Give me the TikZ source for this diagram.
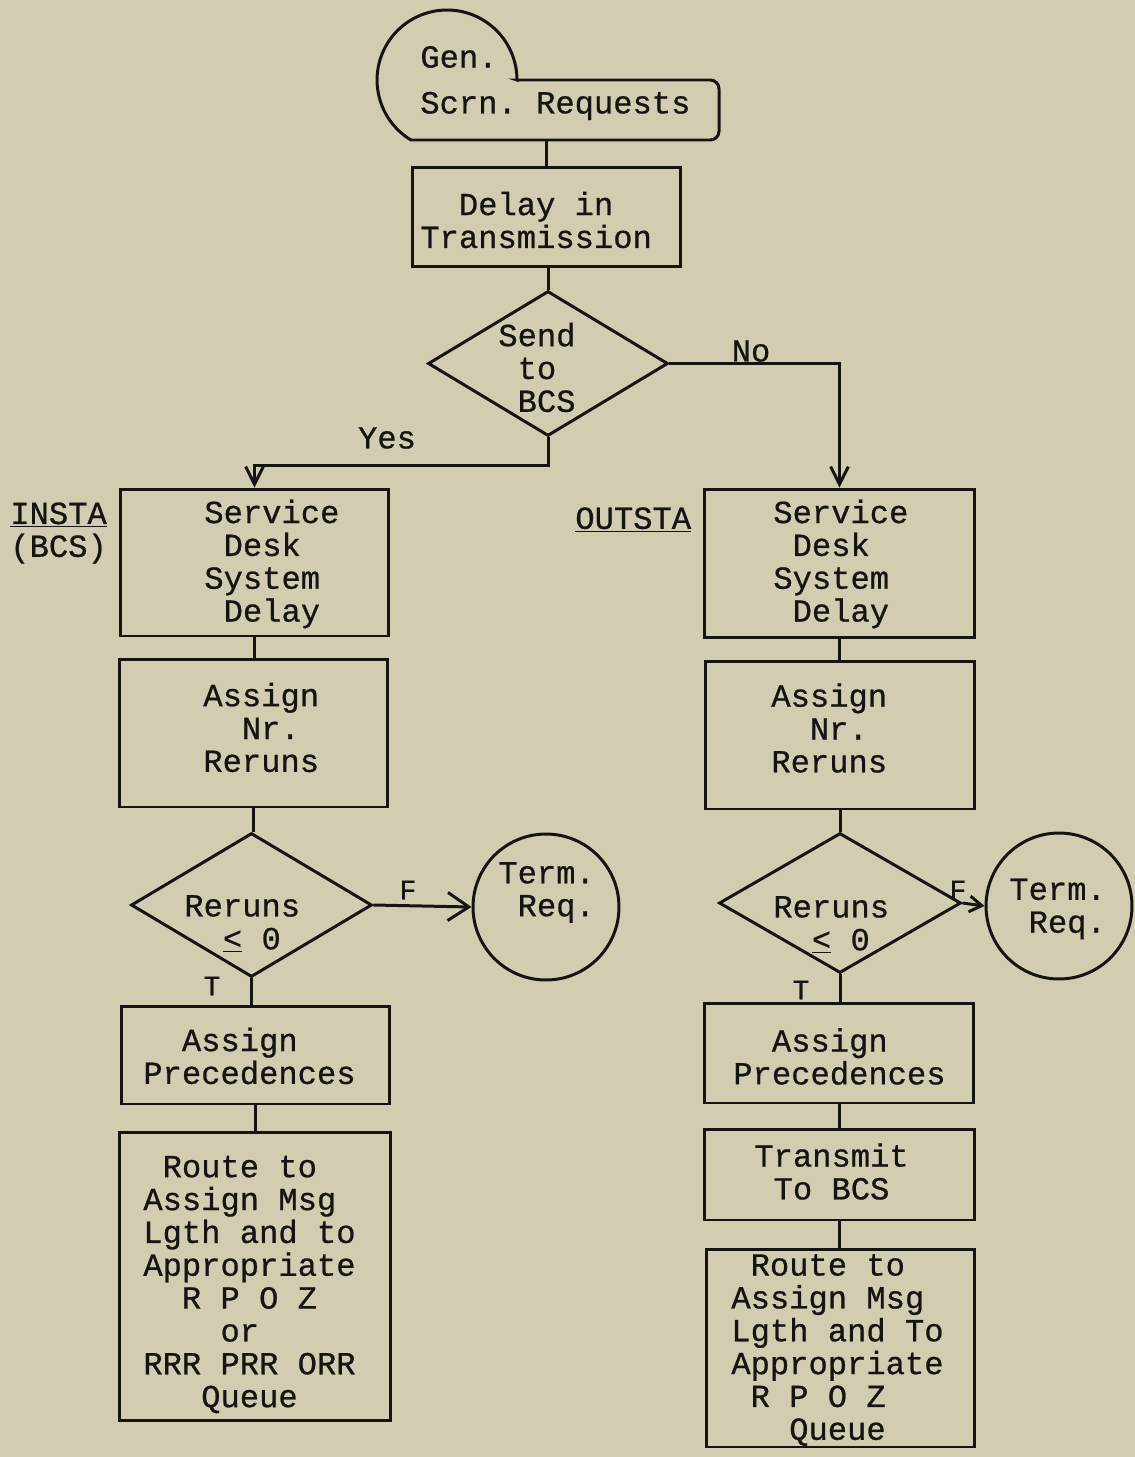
\documentclass[tikz,border=0pt]{standalone}
\usepackage{fontspec}
\setmainfont{Liberation Mono}[FakeBold=0.7]
\usetikzlibrary{shapes.geometric,arrows.meta}
\definecolor{paper}{RGB}{210,204,176}
\definecolor{ink}{RGB}{22,20,18}
\begin{document}
\begin{tikzpicture}[x=0.02cm,y=0.02cm,
  every node/.style={font=\fontsize{18.3}{18.7}\selectfont, text=ink},
  box/.style={draw=ink, line width=1.7pt, rectangle, inner sep=0pt},
  dia/.style={draw=ink, line width=1.7pt, diamond, inner sep=0pt},
  circ/.style={draw=ink, line width=1.7pt, circle, inner sep=0pt, minimum size=2.92cm},
  txt/.style={anchor=west, align=left, inner sep=0pt},
  lbl/.style={inner sep=0pt, font=\fontsize{16}{17}\selectfont},
  con/.style={draw=ink, line width=1.7pt},
  arr/.style={con, -{Straight Barb[length=10pt,width=10pt,line width=1.7pt]}},
  arrbig/.style={con, -{Straight Barb[length=12pt,width=16pt,line width=1.7pt]}},
  arrsmall/.style={con, -{Straight Barb[length=7pt,width=9pt,line width=1.7pt]}}
]
\fill[paper] (0,0) rectangle (1135,-1457);
\useasboundingbox (0,0) rectangle (1135,-1457);

% start terminal
\node[inner sep=0pt, minimum width=6.16cm, minimum height=1.2cm] (start) at (565,-110) {};
\draw[con] (517,-80) [rounded corners=5pt] -- (719,-80) -- (719,-140) [sharp corners] -- (411,-140)
  arc[start angle=239,end angle=0,radius=1.4cm] -- cycle;
\node[txt] (genT) at (420,-57) {Gen.};
\node[txt] (scrnT) at (420,-106) {Scrn.\hspace{0.6em}Requests};

% delay
\node[box, minimum width=5.38cm, minimum height=2cm] (delay) at (546.5,-217) {};
\node[txt] (delayT) at (420,-220) {\hspace*{1.2em}Delay in\\Transmission};

% decision
\node[dia, minimum width=4.8cm, minimum height=2.9cm] (send) at (548,-363.5) {};
\node[txt] (sendT) at (498,-367.5) {Send\\\hspace*{0.6em}to\\\hspace*{0.6em}BCS};

% left column
\node[txt] (insta) at (10,-533) {\underline{INSTA}\\(BCS)};
\node[box, minimum width=5.38cm, minimum height=2.94cm] (sdsL) at (254.5,-562.5) {};
\node[txt] (sdsLT) at (204,-564) {Service\\\hspace*{0.6em}Desk\\System\\\hspace*{0.6em}Delay};
\node[box, minimum width=5.38cm, minimum height=2.96cm] (nrL) at (253.5,-733) {};
\node[txt] (nrLT) at (203,-727.5) {Assign\\\hspace*{1.2em}Nr.\\Reruns};
\node[dia, minimum width=4.82cm, minimum height=2.88cm] (rerL) at (251.5,-905) {};
\node[txt] (rerLT) at (184,-924) {Reruns\\\hspace*{1.2em}\underline{<} 0};
\node[circ] (termL) at (546,-907) {};
\node[txt] (termLT) at (498,-892.5) {Term.\\\hspace*{0.6em}Req.};
\node[box, minimum width=5.38cm, minimum height=1.96cm] (precL) at (255.5,-1055) {};
\node[txt] (precLT) at (143,-1056) {\hspace*{1.2em}Assign\\Precedences};
\node[box, minimum width=5.44cm, minimum height=5.78cm] (routeL) at (255,-1276.5) {};
\node[txt] (routeLT) at (143,-1284.5) {\hspace*{0.6em}Route to\\Assign Msg\\Lgth and to\\Appropriate\\\hspace*{1.2em}R P O Z\\\hspace*{2.4em}or\\RRR PRR ORR\\\hspace*{1.8em}Queue};

% right column
\node[txt] (outsta) at (575,-520) {\underline{OUTSTA}};
\node[box, minimum width=5.42cm, minimum height=2.98cm] (sdsR) at (839.5,-563.5) {};
\node[txt] (sdsRT) at (773,-564) {Service\\\hspace*{0.6em}Desk\\System\\\hspace*{0.6em}Delay};
\node[box, minimum width=5.4cm, minimum height=2.96cm] (nrR) at (840,-735) {};
\node[txt] (nrRT) at (771,-728) {Assign\\\hspace*{1.2em}Nr.\\Reruns};
\node[dia, minimum width=4.84cm, minimum height=2.8cm] (rerR) at (840,-903) {};
\node[txt] (rerRT) at (773,-925) {Reruns\\\hspace*{1.2em}\underline{<} 0};
\node[circ] (termR) at (1059,-906) {};
\node[txt] (termRT) at (1009,-909) {Term.\\\hspace*{0.6em}Req.};
\node[box, minimum width=5.4cm, minimum height=2cm] (precR) at (839,-1053) {};
\node[txt] (precRT) at (733,-1056.5) {\hspace*{1.2em}Assign\\Precedences};
\node[box, minimum width=5.42cm, minimum height=1.82cm] (trans) at (839.5,-1174.5) {};
\node[txt] (transT) at (754,-1171.5) {Transmit\\\hspace*{0.6em}To BCS};
\node[box, minimum width=5.38cm, minimum height=3.96cm] (routeR) at (840.5,-1348) {};
\node[txt] (routeRT) at (731,-1350) {\hspace*{0.6em}Route to\\Assign Msg\\Lgth and To\\Appropriate\\\hspace*{0.6em}R P O Z\\\hspace*{1.8em}Queue};

% connectors
\draw[con] (start.south -| delay.north) -- (delay.north);
\draw[con] (delay.south -| send.north) -- (send.north);
\draw[arr] (send.south) -- ++(0,-28) -| (sdsL.north);
\draw[arr] (send.east) -| (sdsR.north);
\draw[con] (sdsL.south) -- (sdsL.south |- nrL.north);
\draw[con] (nrL.south) -- (nrL.south |- rerL.north);
\draw[arrbig] (rerL.east) -- (termL.west);
\draw[con] (rerL.south) -- (rerL.south |- precL.north);
\draw[con] (precL.south) -- (precL.south |- routeL.north);
\draw[con] (sdsR.south) -- (sdsR.south |- nrR.north);
\draw[con] (nrR.south) -- (nrR.south |- rerR.north);
\draw[arrsmall] (rerR.east) -- (termR.west);
\draw[con] (rerR.south) -- (rerR.south |- precR.north);
\draw[con] (precR.south) -- (precR.south |- trans.north);
\draw[con] (trans.south) -- (trans.south |- routeR.north);

% labels
\node[lbl, font=\fontsize{18.3}{18.7}\selectfont] (yes) at (387,-438) {Yes};
\node[lbl, font=\fontsize{18.3}{18.7}\selectfont] (no) at (751,-351) {No};
\node[lbl] (fL) at (408,-890) {F};
\node[lbl] (tL) at (212,-986) {T};
\node[lbl] (fR) at (958,-890) {F};
\node[lbl] (tR) at (801,-990) {T};
\end{tikzpicture}
\end{document}
